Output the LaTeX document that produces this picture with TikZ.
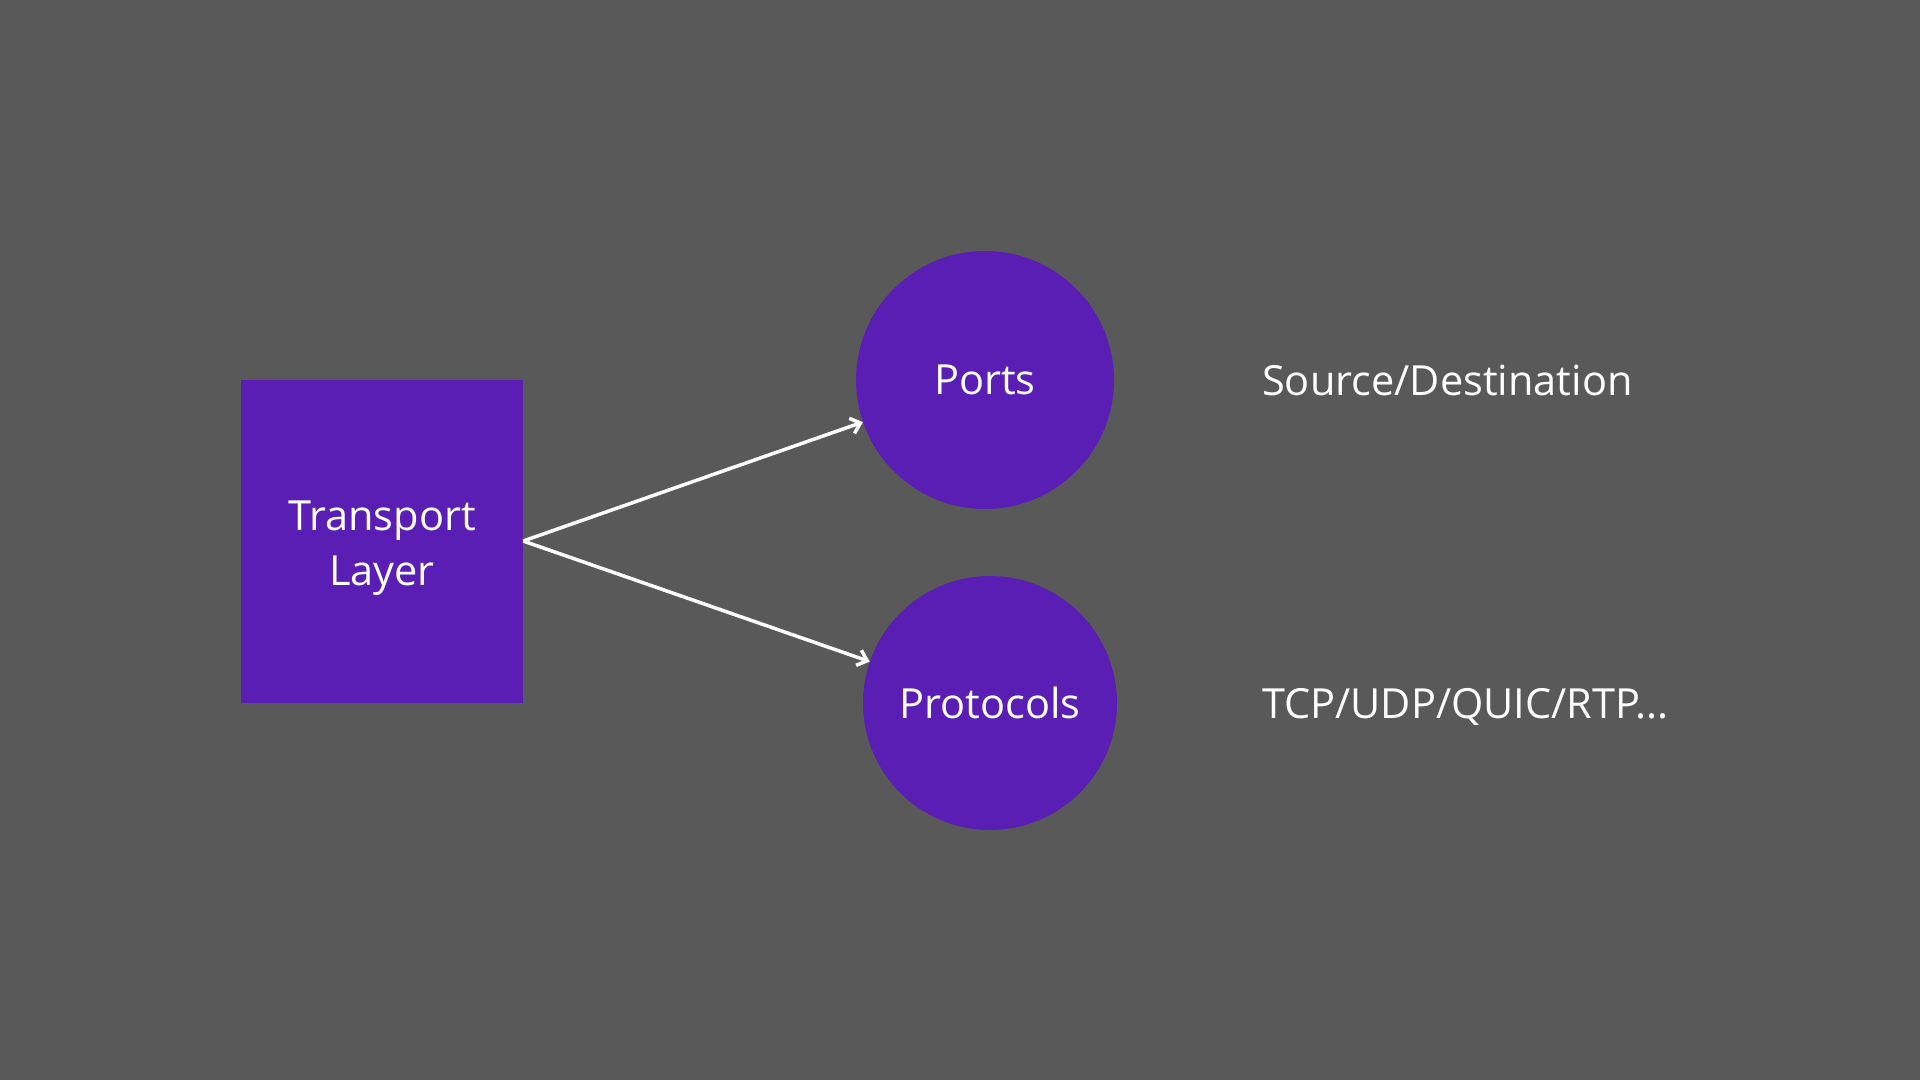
\documentclass[tikz,border=0pt]{standalone}
\usepackage{fontspec}
\setmainfont{Open Sans}
\usetikzlibrary{arrows.meta}
\definecolor{bg}{HTML}{595959}
\definecolor{purp}{HTML}{5A1EB4}
\tikzset{
  lbl/.style={text=white, font=\fontsize{41.5}{55}\selectfont},
  boxnode/.style={fill=purp, draw=none, minimum width=282pt, minimum height=323pt, inner sep=0pt, lbl, align=center},
  circnode/.style={circle, fill=purp, draw=none, inner sep=0pt, lbl},
  side/.style={lbl, anchor=west, inner sep=0pt},
  conn/.style={draw=white, line width=3.5pt, -{Straight Barb[length=9pt,width=16pt,line width=3.5pt]}}
}
\begin{document}
\begin{tikzpicture}[x=1pt,y=-1pt]
\fill[bg] (0,0) rectangle (1920,1080);
\useasboundingbox (0,0) rectangle (1920,1080);
\node[boxnode] (tl) at (382,541) {};
\node[lbl, align=center] (tltext) at (382,548) {Transport\\Layer};
\node[circnode, minimum size=258pt] (ports) at (985,380) {Ports};
\node[circnode, minimum size=254pt] (proto) at (990,703) {Protocols};
\node[side] (src) at (1262,380) {Source/Destination};
\node[side] (tcp) at (1262,707) {TCP/UDP/QUIC/RTP...};
\coordinate (s) at (tl.east);
\draw[conn] (s) -- (ports.199);
\draw[conn] (s) -- (proto.161);
\end{tikzpicture}
\end{document}
